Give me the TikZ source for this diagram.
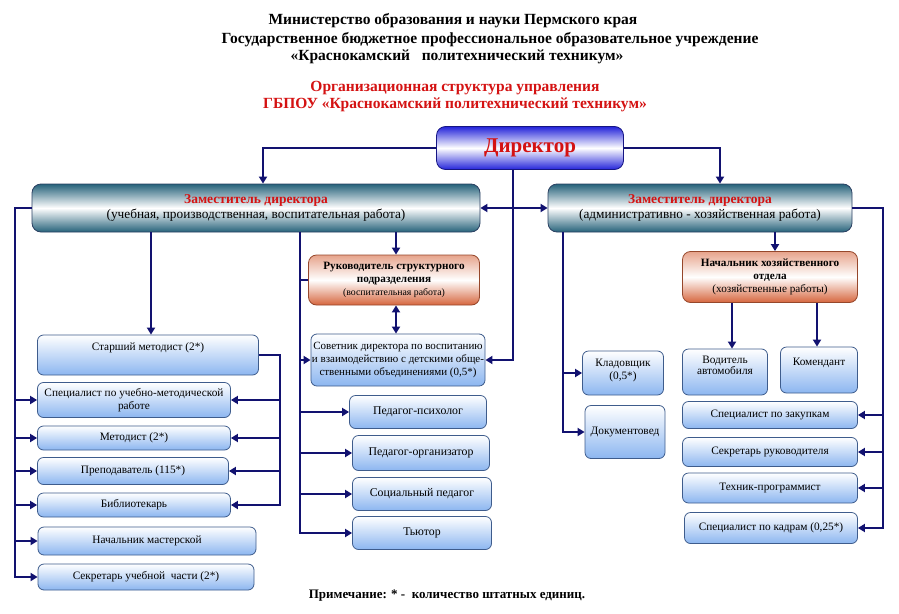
\documentclass[tikz,border=0pt]{standalone}
\usepackage{fontspec}
\setmainfont{Liberation Serif}
\usetikzlibrary{arrows.meta}

\definecolor{linenavy}{RGB}{18,18,112}
\definecolor{boxedge}{RGB}{62,92,140}
\definecolor{boxblue}{RGB}{140,182,240}
\definecolor{depteal}{RGB}{38,98,122}
\definecolor{headorange}{RGB}{214,102,62}
\definecolor{dirblue}{RGB}{36,36,218}
\definecolor{redtxt}{RGB}{212,18,18}

\begin{document}
\begin{tikzpicture}[x=1pt, y=-1pt,
  box/.style={draw=boxedge, line width=0.8pt, rounded corners=6pt, top color=white, bottom color=boxblue,
    align=center, inner sep=1pt, font=\fontsize{11.3}{13}\selectfont},
  dephead/.style={draw=boxedge!70!black, line width=0.8pt, rounded corners=9pt, top color=depteal, bottom color=depteal,
    middle color=white, align=center, font=\fontsize{13.3}{15.5}\selectfont},
  orangehead/.style={draw=headorange!70!black, line width=0.8pt, rounded corners=8pt, top color=headorange!60, bottom color=headorange,
    middle color=white, align=center, inner sep=1pt, font=\fontsize{11.2}{13}\selectfont},
  dirhead/.style={draw=dirblue!60!black, line width=0.8pt, rounded corners=9pt, top color=dirblue, bottom color=dirblue,
    middle color=white, font=\bfseries\fontsize{21}{23}\selectfont, text=redtxt},
  conn/.style={draw=linenavy, line width=2.4pt},
  arr/.style={conn, -{Triangle[length=7pt,width=8pt]}},
  darr/.style={conn, {Triangle[length=7pt,width=8pt]}-{Triangle[length=7pt,width=8pt]}},
  title/.style={font=\bfseries\fontsize{15.5}{17}\selectfont}]

\useasboundingbox (0,0) rectangle (899,613);

% Titles
\node[title] (t1) at (453,21) {Министерство образования и науки Пермского края};
\node[title] (t2) at (490,40) {Государственное бюджетное профессиональное образовательное учреждение};
\node[title] (t3) at (457,57) {«Краснокамский \ \ политехнический техникум»};
\node[title, text=redtxt] (t4) at (455,88) {Организационная структура управления};
\node[title, text=redtxt] (t5) at (455,105) {ГБПОУ «Краснокамский политехнический техникум»};

% Nodes
\node[dirhead, minimum width=187pt, minimum height=43pt] (dir) at (530,148) {Директор};

\node[dephead, minimum width=448pt, minimum height=48pt] (dep1) at (256,208)
  {{\bfseries\fontsize{13.5}{15}\selectfont\color{redtxt}Заместитель директора}\\(учебная, производственная, воспитательная работа)};
\node[dephead, minimum width=304pt, minimum height=48pt] (dep2) at (700,208)
  {{\bfseries\fontsize{13.5}{15}\selectfont\color{redtxt}Заместитель директора}\\(административно - хозяйственная работа)};

\node[orangehead, minimum width=171pt, minimum height=50pt] (ruk) at (394,280)
  {\textbf{Руководитель структурного}\\\textbf{подразделения}\\{\fontsize{9.8}{11}\selectfont (воспитательная работа)}};
\node[box, minimum width=174pt, minimum height=52pt, font=\fontsize{11}{13}\selectfont] (sov) at (398,360)
  {Советник директора по воспитанию\\и взаимодействию с детскими обще-\\ственными объединениями (0,5*)};
\node[box, minimum width=137pt, minimum height=33pt, font=\fontsize{11.8}{13}\selectfont] (psy) at (418,412) {Педагог-психолог};
\node[box, minimum width=137pt, minimum height=35pt, font=\fontsize{11.8}{13}\selectfont] (org) at (421,453) {Педагог-организатор};
\node[box, minimum width=139pt, minimum height=33pt, font=\fontsize{11.8}{13}\selectfont] (soc) at (422,494) {Социальный педагог};
\node[box, minimum width=139pt, minimum height=33pt, font=\fontsize{11.8}{13}\selectfont] (tut) at (422,533) {Тьютор};

\node[box, minimum width=221pt, minimum height=40pt, text depth=16pt] (smet) at (148,355) {Старший методист (2*)};
\node[box, minimum width=193pt, minimum height=35pt] (spum) at (134,400) {Специалист по учебно-методической\\работе};
\node[box, minimum width=193pt, minimum height=24pt] (met) at (134,438) {Методист (2*)};
\node[box, minimum width=191pt, minimum height=27pt] (prep) at (133,471) {Преподаватель (115*)};
\node[box, minimum width=193pt, minimum height=24pt] (bib) at (134,505) {Библиотекарь};
\node[box, minimum width=218pt, minimum height=28pt] (nach) at (147,541) {Начальник мастерской};
\node[box, minimum width=216pt, minimum height=26pt] (sekr) at (146,577) {Секретарь учебной \ части (2*)};

\node[orangehead, minimum width=175pt, minimum height=51pt] (hoz) at (770,277)
  {\textbf{Начальник хозяйственного}\\\textbf{отдела}\\(хозяйственные работы)};
\node[box, minimum width=81pt, minimum height=44pt, text depth=8pt] (klad) at (623,373) {Кладовщик\\(0,5*)};
\node[box, minimum width=80pt, minimum height=53pt] (doc) at (625,432) {Документовед};
\node[box, minimum width=85pt, minimum height=46pt, font=\fontsize{11.3}{11}\selectfont, text depth=14pt] (vod) at (725,372) {Водитель\\автомобиля};
\node[box, minimum width=77pt, minimum height=46pt, text depth=16pt] (kom) at (819,370) {Комендант};
\node[box, minimum width=175pt, minimum height=27pt] (zak) at (770,415) {Специалист по закупкам};
\node[box, minimum width=175pt, minimum height=29pt] (sekrr) at (770,452) {Секретарь руководителя};
\node[box, minimum width=175pt, minimum height=30pt] (tech) at (770,488) {Техник-программист};
\node[box, minimum width=173pt, minimum height=31pt] (kadr) at (771,528) {Специалист по кадрам (0,25*)};

\node[font=\bfseries\fontsize{13}{15}\selectfont] (note) at (447,596) {Примечание: * - \ количество штатных единиц.};

% Bus lines
\coordinate (xL) at (15,0);
\coordinate (xA) at (151,0);
\coordinate (xD) at (263,0);
\coordinate (xM) at (280,0);
\coordinate (xB) at (300,0);
\coordinate (xC) at (396,0);
\coordinate (xF) at (513,0);
\coordinate (xG) at (563,0);
\coordinate (xE) at (720,0);
\coordinate (xV) at (732,0);
\coordinate (xH) at (775,0);
\coordinate (xK) at (817,0);
\coordinate (xR) at (883,0);

% Edges
\draw[arr] (dir.west) -| (dep1.north -| xD);
\draw[arr] (dir.east) -| (dep2.north -| xE);
\draw[arr] (dir.south -| xF) |- (sov.east);
\draw[darr] (dep1.east) -- (dep2.west);

\draw[arr] (dep1.west) -| (xL |- sekr.west) -- (sekr.west);
\foreach \n in {spum,met,prep,bib,nach}
  \draw[arr] (xL |- \n.west) -- (\n.west);

\draw[arr] (dep1.south -| xA) -- (smet.north -| xA);
\draw[arr] (smet.east) -| (xM |- bib.east) -- (bib.east);
\foreach \n in {spum,met,prep}
  \draw[arr] (xM |- \n.east) -- (\n.east);

\draw[arr] (dep1.south -| xB) |- (tut.west);
\draw[conn] (xB |- ruk.west) -- (ruk.west);
\foreach \n in {sov,psy,org,soc}
  \draw[arr] (xB |- \n.west) -- (\n.west);

\draw[arr] (dep1.south -| xC) -- (ruk.north -| xC);
\draw[darr] (ruk.south -| xC) -- (sov.north -| xC);

\draw[arr] (dep2.south -| xG) |- (doc.west);
\draw[arr] (xG |- klad.west) -- (klad.west);
\draw[arr] (dep2.south -| xH) -- (hoz.north -| xH);
\draw[arr] (hoz.south -| xV) -- (vod.north -| xV);
\draw[arr] (hoz.south -| xK) -- (kom.north -| xK);

\draw[arr] (dep2.east) -| (xR |- kadr.east) -- (kadr.east);
\foreach \n in {zak,sekrr,tech}
  \draw[arr] (xR |- \n.east) -- (\n.east);

\end{tikzpicture}
\end{document}
